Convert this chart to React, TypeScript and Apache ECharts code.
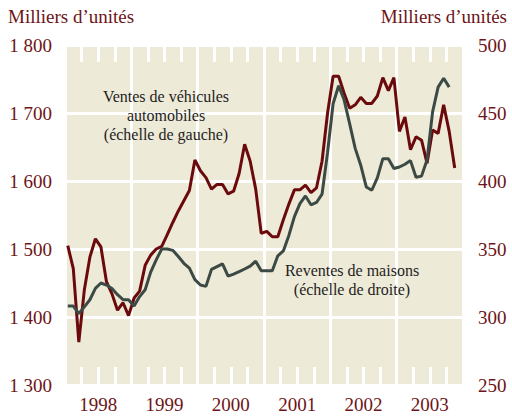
import React, { useEffect, useRef } from "react";
import * as echarts from "echarts";

const years = ["1998", "1999", "2000", "2001", "2002", "2003"];
const startYear = 1998;

// Ventes de véhicules automobiles (milliers, échelle de gauche), mensuel depuis janv. 1998
const vehicleSales = [
  1505, 1471, 1363, 1440, 1488, 1515, 1503, 1452, 1434, 1410, 1421, 1402,
  1428, 1438, 1476, 1491, 1500, 1504, 1521, 1539, 1556, 1571, 1586, 1631,
  1615, 1605, 1588, 1595, 1595, 1581, 1585, 1611, 1654, 1629, 1588, 1523,
  1526, 1518, 1518, 1543, 1566, 1587, 1587, 1594, 1583, 1590, 1629, 1700,
  1754, 1754, 1729, 1707, 1712, 1723, 1714, 1714, 1725, 1752, 1733, 1752,
  1673, 1694, 1646, 1665, 1660, 1626, 1675, 1670, 1712, 1673, 1619,
];

// Reventes de maisons (milliers, échelle de droite), mensuel depuis janv. 1998
const homeResales = [
  308, 308, 302.5, 307.5, 312.7, 321, 325, 323.5, 321, 316.4, 312.7, 312.7,
  308, 315, 320, 333, 342, 350, 350, 349, 344.5, 339.5, 336, 327.5,
  323.5, 322.5, 335, 337, 339, 330, 331.5, 333.3, 335.3, 337.4, 341, 334,
  334, 334, 345, 348.6, 360, 373.8, 383.4, 389, 382.5, 384.2, 390.3, 421,
  456.8, 470, 459.5, 442, 424, 411.6, 395.6, 393.2, 402.3, 416.4, 416.4, 409.2,
  410.3, 412.3, 415, 402.8, 403.6, 415.7, 450.8, 469, 475.5, 469,
];

const leftTicks = { min: 1300, max: 1800, interval: 100 };
const rightTicks = { min: 250, max: 500, interval: 50 };

const RED = "#6b0a0c";
const GRAY = "#3c4a46";
const LABEL = "#6e1416";
const BG = "#eeead8";
const FONT = '"Liberation Serif", "DejaVu Serif", serif';

const toXY = (arr: number[]) =>
  arr.map((v, i) => [startYear + (i + 0.5) / 12, v]);

const fmt = (v: number) =>
  String(v).replace(/\B(?=(\d{3})+(?!\d))/g, " ");

export default function App() {
  const ref = useRef<HTMLDivElement>(null);
  useEffect(() => {
    document.body.style.margin = "0";
    if (!ref.current) return;
    const chart = echarts.init(ref.current, undefined, { renderer: "svg" });
    const tickCommon = {
      show: true,
      inside: true,
      length: 18,
      lineStyle: { color: "#ffffff", width: 3 },
    };
    chart.setOption({
      animation: false,
      grid: {
        left: 65,
        right: 49,
        top: 45,
        bottom: 33,
        show: true,
        backgroundColor: BG,
        borderWidth: 0,
      },
      xAxis: [
        {
          type: "value",
          min: 1998,
          max: 2004,
          interval: 1,
          position: "bottom",
          axisLine: { show: false },
          axisLabel: { show: false },
          axisTick: tickCommon,
          minorTick: { show: true, splitNumber: 4, length: 18, lineStyle: { color: "#ffffff", width: 3 } },
          splitLine: { show: true, lineStyle: { color: "#ffffff", width: 3 } },
        },
        {
          type: "value",
          min: 1998,
          max: 2004,
          interval: 1,
          position: "top",
          axisLine: { show: false },
          axisLabel: { show: false },
          axisTick: tickCommon,
          minorTick: { show: true, splitNumber: 4, length: 17, lineStyle: { color: "#ffffff", width: 3 } },
          splitLine: { show: false },
        },
        {
          type: "category",
          data: years,
          position: "bottom",
          boundaryGap: true,
          axisLine: { show: false },
          axisTick: { show: false },
          splitLine: { show: false },
          axisLabel: { color: LABEL, fontFamily: FONT, fontSize: 19, margin: 10 },
        },
      ],
      yAxis: [
        {
          type: "value",
          position: "left",
          ...leftTicks,
          axisLine: { show: false },
          axisTick: { show: false },
          axisLabel: { color: LABEL, fontFamily: FONT, fontSize: 19, margin: 13, formatter: fmt },
          splitLine: { show: true, lineStyle: { color: "#ffffff", width: 3 } },
        },
        {
          type: "value",
          position: "right",
          ...rightTicks,
          axisLine: { show: false },
          axisTick: { show: false },
          axisLabel: { color: LABEL, fontFamily: FONT, fontSize: 19, margin: 15, formatter: fmt },
          splitLine: { show: false },
        },
      ],
      series: [
        {
          type: "line",
          name: "Ventes de véhicules automobiles",
          xAxisIndex: 0,
          yAxisIndex: 0,
          data: toXY(vehicleSales),
          showSymbol: false,
          lineStyle: { color: RED, width: 3 },
          z: 3,
        },
        {
          type: "line",
          name: "Reventes de maisons",
          xAxisIndex: 0,
          yAxisIndex: 1,
          data: toXY(homeResales),
          showSymbol: false,
          lineStyle: { color: GRAY, width: 3 },
          z: 4,
        },
      ],
      graphic: [
        {
          type: "text",
          left: 8,
          top: 7,
          z: 100,
          style: { text: "Milliers d’unités", font: `19px ${FONT}`, fill: LABEL },
        },
        {
          type: "text",
          right: 5,
          top: 7,
          z: 100,
          style: { text: "Milliers d’unités", font: `19px ${FONT}`, fill: LABEL },
        },
        {
          type: "text",
          x: 166,
          y: 87,
          z: 100,
          style: {
            text: "Ventes de véhicules\nautomobiles\n(échelle de gauche)",
            font: `16px ${FONT}`,
            fill: "#1e1e1e",
            align: "center",
            verticalAlign: "top",
            lineHeight: 19,
          },
        },
        {
          type: "text",
          x: 352,
          y: 261,
          z: 100,
          style: {
            text: "Reventes de maisons\n(échelle de droite)",
            font: `16px ${FONT}`,
            fill: "#1e1e1e",
            align: "center",
            verticalAlign: "top",
            lineHeight: 19,
          },
        },
      ],
    });
    return () => chart.dispose();
  }, []);
  return (
    <div
      ref={ref}
      style={{ position: "absolute", left: 0, top: 0, width: 512, height: 418 }}
    />
  );
}
